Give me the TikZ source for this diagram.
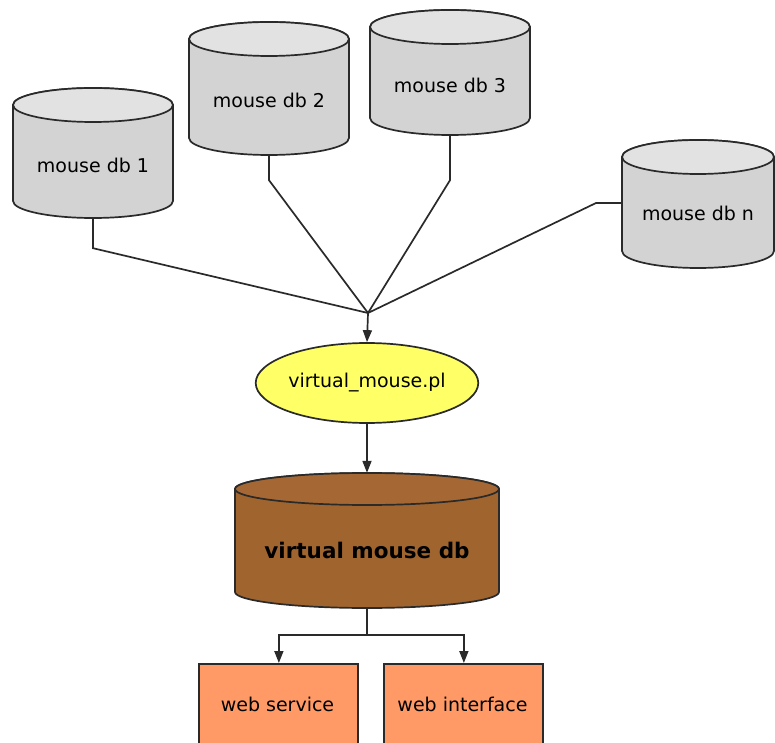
\documentclass[tikz,border=0pt]{standalone}
\usepackage{fontspec}
\setmainfont{DejaVu Sans}
\usetikzlibrary{arrows.meta,shapes.geometric}
\definecolor{dbgray}{HTML}{D3D3D3}
\definecolor{dbgraytop}{HTML}{E2E2E2}
\definecolor{vbrown}{HTML}{A0642F}
\definecolor{vbrowntop}{HTML}{A56834}
\definecolor{vyellow}{HTML}{FFFF66}
\definecolor{vorange}{HTML}{FF9966}
\definecolor{lineclr}{HTML}{2A2A2A}
\tikzset{
  x=1pt,y=1pt,
  conn/.style={draw=lineclr,line width=1.7pt},
  arr/.style={conn,-{Triangle[width=9pt,length=12pt]}},
  outline/.style={draw=lineclr,line width=1.7pt},
  lbl/.style={font=\fontsize{19}{22}\selectfont,inner sep=0pt},
  blbl/.style={font=\fontsize{21.5}{24}\selectfont\bfseries,inner sep=0pt},
  anchorbox/.style={inner sep=0pt,draw=none},
  gray-body/.style={outline,fill=dbgray},
  gray-end/.style={outline,fill=dbgraytop},
  gray-text/.style={lbl},
  brown-body/.style={outline,fill=vbrown},
  brown-end/.style={outline,fill=vbrowntop},
  brown-text/.style={blbl},
}
% \dbcyl{name}{cx}{topY}{botY}{a}{b}{kind}{textY}{text}
\newcommand{\dbcyl}[9]{%
  \filldraw[#7-body] (#2-#5,#3) -- (#2-#5,#4)
     arc[start angle=180,end angle=360,x radius=#5,y radius=#6]
     -- (#2+#5,#3) arc[start angle=0,end angle=180,x radius=#5,y radius=#6] -- cycle;
  \filldraw[#7-end] (#2,#3) ellipse[x radius=#5,y radius=#6];
  \node[anchorbox,minimum width=2*#5,minimum height=#3-#4+2*#6] (#1) at (#2,{(#3+#4)/2}) {};
  \node[#7-text] (#1-t) at (#2,#8) {#9};
}
\begin{document}
\begin{tikzpicture}
\useasboundingbox (0,0) rectangle (775,742);
% gray databases
\dbcyl{db1}{93}{637}{541}{80}{17}{gray}{577}{mouse db 1}
\dbcyl{db2}{269}{703}{604}{80}{17}{gray}{642}{mouse db 2}
\dbcyl{db3}{450}{715}{624}{80}{17}{gray}{657}{mouse db 3}
\dbcyl{dbn}{698}{585}{491}{76}{17}{gray}{529}{mouse db n}
% merge point
\coordinate (m) at (368,429);
% virtual_mouse.pl
\node[ellipse,outline,fill=vyellow,minimum width=210,minimum height=80,inner sep=0pt,lbl] (vm) at (367,359) {virtual\_mouse.pl};
% virtual mouse db
\dbcyl{vdb}{367}{253}{150}{132}{16}{brown}{192}{virtual mouse db}
% boxes
\node[outline,fill=vorange,minimum width=159,minimum height=90,inner sep=0pt,anchor=north west] (ws) at (198,79) {};
\node[lbl] (ws-t) at (277.5,38) {web service};
\node[outline,fill=vorange,minimum width=159,minimum height=90,inner sep=0pt,anchor=north west] (wi) at (383,79) {};
\node[lbl] (wi-t) at (462.5,38) {web interface};
% connectors
\draw[conn] (db1.south) -- ++(0,-30) -- (m);
\draw[conn] (db2.south) -- ++(0,-25) -- (m);
\draw[conn] (db3.south) -- ++(0,-45) -- (m);
\draw[conn] (dbn.west |- 0,539) -- (596,539) -- (m);
\draw[arr] (m) -- (vm.north);
\draw[arr] (vm.south) -- (vdb.north);
\coordinate (split) at (367,107);
\draw[conn] (vdb.south) -- (split);
\draw[arr] (split) -| ([xshift=0.5pt]ws.north);
\draw[arr] (split) -| ([xshift=0.5pt]wi.north);
\end{tikzpicture}
\end{document}
